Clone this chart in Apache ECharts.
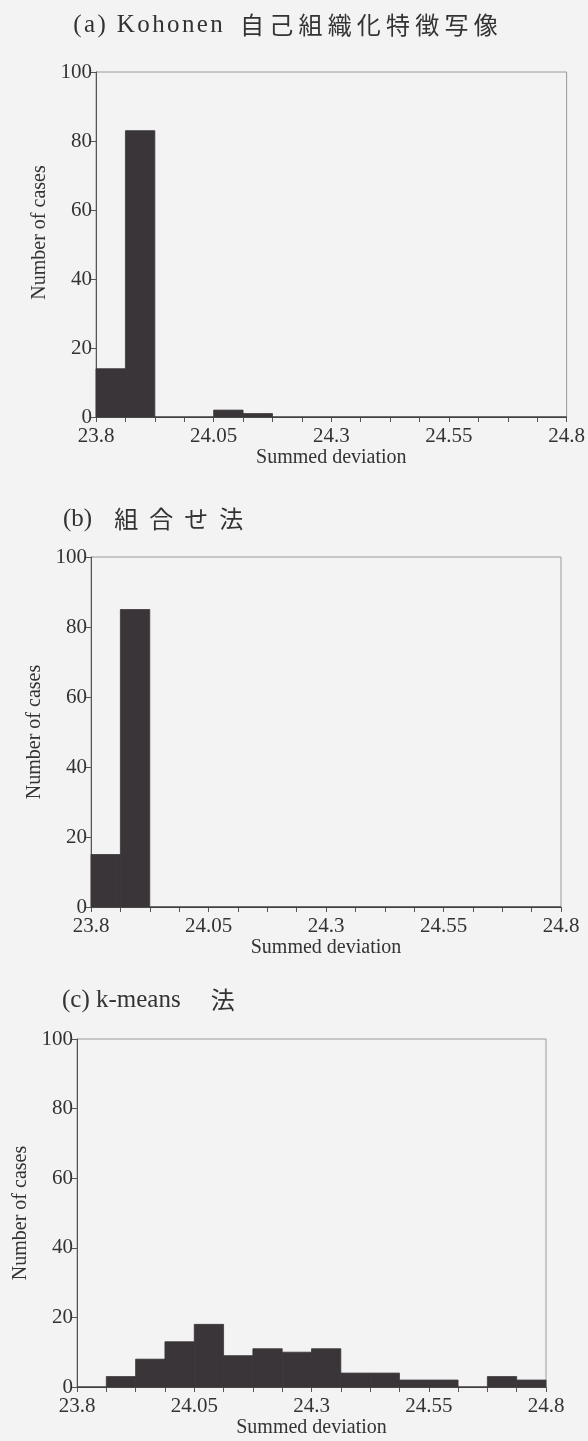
<!DOCTYPE html>
<html>
<head>
<meta charset="utf-8">
<script src="https://cdn.jsdelivr.net/npm/echarts@6/dist/echarts.min.js"></script>
<style>
  html, body { margin: 0; padding: 0; background: #f3f3f4; }
  #chart { width: 588px; height: 1441px; }
</style>
</head>
<body>
<div id="chart"></div>
<script>
// Histogram bins of summed deviation (16 bins of width 0.0625 from 23.8 to 24.8)
const binStart = 23.8;
const binWidth = 0.0625;
const binCount = 16;

// Number of cases per bin for each clustering method
const countsKohonen     = [14, 83, 0, 0, 2, 1, 0, 0, 0, 0, 0, 0, 0, 0, 0, 0];
const countsCombination = [15, 85, 0, 0, 0, 0, 0, 0, 0, 0, 0, 0, 0, 0, 0, 0];
const countsKmeans      = [0, 3, 8, 13, 18, 9, 11, 10, 11, 4, 4, 2, 2, 0, 3, 2];

// Axis tick labels
const xTickLabels = [23.8, 24.05, 24.3, 24.55, 24.8];
const yTickLabels = [0, 20, 40, 60, 80, 100];

// Panel titles
const titleA = ['(a) Kohonen', '自己組織化特徴写像'];
const titleB = ['(b)', '組合せ法'];
const titleC = ['(c) k-means', '法'];

const FONT = "'Liberation Serif', 'Noto Sans CJK JP', serif";
const CJK = "'Noto Sans CJK JP', sans-serif";
const INK = '#333';
const BAR = '#3a3538';

const binEdges = Array.from({ length: binCount + 1 }, (_, i) => +(binStart + i * binWidth).toFixed(4));
function toBins(counts) {
  return counts.map((n, i) => [binEdges[i], binEdges[i + 1], n]);
}
function spaced(str, style) {
  return str.split('').map(ch => '{' + style + '|' + ch + '}').join('');
}

const panels = [
  { counts: countsKohonen,     grid: { left: 96, top: 72,   width: 472, height: 345 }, namePad: [0, 0, 0, 24] },
  { counts: countsCombination, grid: { left: 91, top: 557,  width: 470, height: 350 }, namePad: 0 },
  { counts: countsKmeans,      grid: { left: 77, top: 1039, width: 469, height: 348 }, namePad: 0 }
];

const grids = panels.map(p => Object.assign({
  show: true, borderColor: '#9a9a9a', borderWidth: 1, backgroundColor: 'transparent'
}, p.grid));

const xAxes = panels.map((p, i) => ({
  type: 'value', gridIndex: i, min: binStart, max: binStart + binCount * binWidth,
  axisLine: { show: true, lineStyle: { color: '#555', width: 1 } },
  axisTick: { show: true, length: 5, customValues: binEdges, lineStyle: { color: '#555' } },
  axisLabel: { customValues: xTickLabels, margin: 9, fontSize: 21, fontFamily: FONT, color: INK,
               formatter: v => String(v) },
  splitLine: { show: false },
  name: 'Summed deviation', nameLocation: 'middle', nameGap: 30,
  nameTextStyle: { fontSize: 20, fontFamily: FONT, color: INK }
}));

const yAxes = panels.map((p, i) => ({
  type: 'value', gridIndex: i, min: 0, max: 100, interval: 20,
  axisLine: { show: true, lineStyle: { color: '#555', width: 1 } },
  axisTick: { show: true, length: 5, lineStyle: { color: '#555' } },
  axisLabel: { margin: 4, fontSize: 21, fontFamily: FONT, color: INK,
               formatter: v => yTickLabels.includes(v) ? String(v) : '' },
  splitLine: { show: false },
  name: 'Number of cases', nameLocation: 'middle', nameGap: 46, nameRotate: 90,
  nameTextStyle: { fontSize: 20, fontFamily: FONT, color: INK, padding: p.namePad }
}));

const series = panels.map((p, i) => ({
  type: 'custom', xAxisIndex: i, yAxisIndex: i,
  data: toBins(p.counts),
  encode: { x: [0, 1], y: 2 },
  renderItem: (params, api) => {
    const top = api.coord([api.value(0), api.value(2)]);
    const base = api.coord([api.value(1), 0]);
    return {
      type: 'rect',
      shape: { x: top[0], y: top[1], width: base[0] - top[0], height: base[1] - top[1] },
      style: { fill: BAR, stroke: BAR, lineWidth: 0.8 }
    };
  },
  silent: true
}));

const latin = { fontSize: 25, fontFamily: FONT, fontWeight: 'normal', color: INK, lineHeight: 30 };
const cjk = { fontFamily: CJK, fontWeight: 'normal', color: INK, lineHeight: 30, align: 'left' };
const titles = [
  {
    left: 72, top: 10, padding: 0,
    text: spaced(titleA[0], 'l') + '{g| }' + spaced(titleA[1], 'c'),
    textStyle: { fontWeight: 'normal', rich: {
      l: Object.assign({}, latin, { padding: [0, 1.2] }),
      g: { fontSize: 25, width: 16 },
      c: Object.assign({}, cjk, { fontSize: 24, width: 29.2 })
    } }
  },
  {
    left: 63, top: 504, padding: 0,
    text: '{l|' + titleB[0] + '}{g| }' + spaced(titleB[1], 'c'),
    textStyle: { fontWeight: 'normal', rich: {
      l: latin,
      g: { fontSize: 25, width: 22 },
      c: Object.assign({}, cjk, { fontSize: 24, width: 35 })
    } }
  },
  {
    left: 62, top: 985, padding: 0,
    text: '{l|' + titleC[0] + '}{g| }' + spaced(titleC[1], 'c'),
    textStyle: { fontWeight: 'normal', rich: {
      l: latin,
      g: { fontSize: 25, width: 30 },
      c: Object.assign({}, cjk, { fontSize: 24 })
    } }
  }
];

const chart = echarts.init(document.getElementById('chart'), null, { renderer: 'canvas' });
chart.setOption({
  backgroundColor: '#f3f3f4',
  animation: false,
  title: titles,
  grid: grids,
  xAxis: xAxes,
  yAxis: yAxes,
  series: series
});
</script>
</body>
</html>
